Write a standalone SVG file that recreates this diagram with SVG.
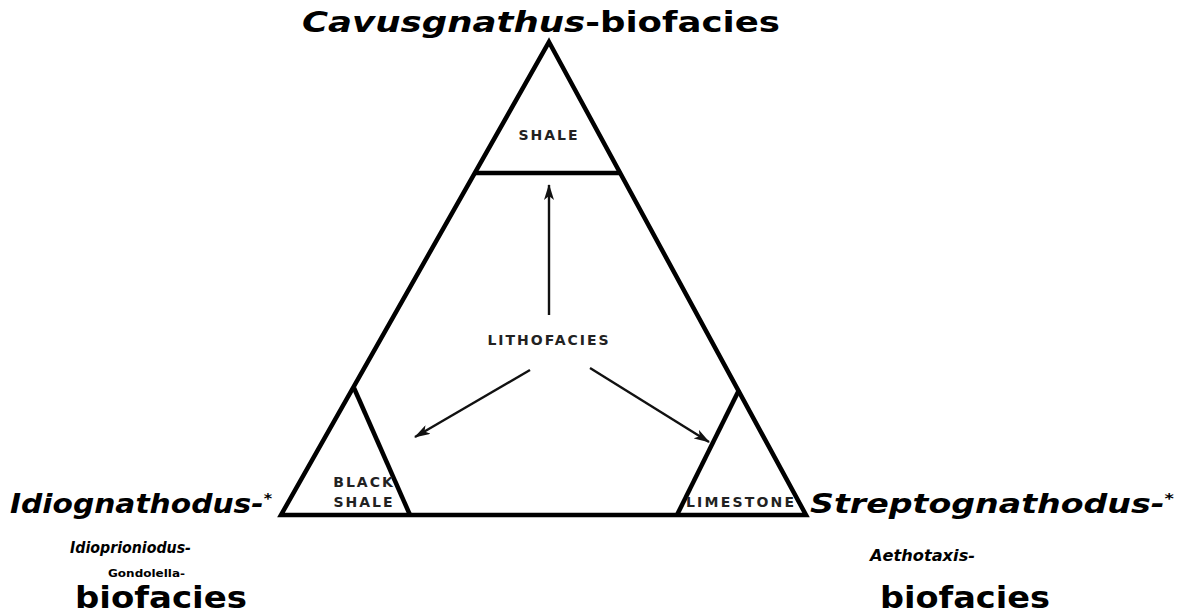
<svg xmlns="http://www.w3.org/2000/svg" width="1181" height="615" viewBox="0 0 1181 615">
<style>
.frame{fill:none;stroke:#000;stroke-width:4.5;stroke-linejoin:miter}
.arr{fill:none;stroke:#111;stroke-width:2.4}
.lab{font-family:"DejaVu Sans","Liberation Sans",sans-serif;font-weight:bold;fill:#222;text-anchor:middle;letter-spacing:2px}
.big{font-family:"DejaVu Sans","Liberation Sans",sans-serif;font-weight:bold;fill:#000}
.it{font-style:italic}
</style>
<defs>
<marker id="ah" markerWidth="16" markerHeight="10" refX="15" refY="5" orient="auto" markerUnits="userSpaceOnUse">
<path d="M0,0 L16,5 L0,10 L4,5 Z" fill="#111"/>
</marker>
</defs>
<rect width="1181" height="615" fill="#fff"/>
<g id="triangle">
<path class="frame" d="M549,42 L806,515 L281,515 Z"/>
<line class="frame" x1="475" y1="173" x2="620" y2="173"/>
<line class="frame" x1="354" y1="388" x2="410" y2="515"/>
<line class="frame" x1="739" y1="390" x2="677" y2="515"/>
</g>
<g id="shale"><text class="lab" x="549" y="140" font-size="14">SHALE</text></g>
<g id="lithofacies"><text class="lab" x="549" y="345" font-size="14" font-weight="normal">LITHOFACIES</text></g>
<g id="blackshale"><text class="lab" x="364" y="487" font-size="14" letter-spacing="3">BLACK</text><text class="lab" x="364" y="507" font-size="14" letter-spacing="3">SHALE</text></g>
<g id="limestone"><text class="lab" x="741" y="507" font-size="14" letter-spacing="1" textLength="110" lengthAdjust="spacing">LIMESTONE</text></g>
<g id="connectors">
<line class="arr" x1="549" y1="315" x2="549" y2="185" marker-end="url(#ah)"/>
<line class="arr" x1="530" y1="370" x2="415" y2="437" marker-end="url(#ah)"/>
<line class="arr" x1="590" y1="368" x2="709" y2="442" marker-end="url(#ah)"/>
</g>
<g id="cavusgnathus"><text class="big" x="302" y="32" font-size="28" textLength="478" lengthAdjust="spacingAndGlyphs"><tspan class="it">Cavusgnathus</tspan>-biofacies</text></g>
<g id="idiognathodus">
<text class="big it" x="10" y="513" font-size="26" textLength="262" lengthAdjust="spacingAndGlyphs">Idiognathodus-<tspan font-size="14" dy="-10">*</tspan></text>
<text class="big it" x="70" y="553" font-size="15" textLength="121" lengthAdjust="spacingAndGlyphs">Idioprioniodus-</text>
<text class="big" x="108" y="577" font-size="11" textLength="77" lengthAdjust="spacingAndGlyphs">Gondolella-</text>
<text class="big" x="75" y="608" font-size="31" textLength="172" lengthAdjust="spacingAndGlyphs">biofacies</text>
</g>
<g id="streptognathodus">
<text class="big it" x="810" y="513" font-size="26" textLength="364" lengthAdjust="spacingAndGlyphs">Streptognathodus-<tspan font-size="14" dy="-10">*</tspan></text>
<text class="big it" x="870" y="561" font-size="15" textLength="105" lengthAdjust="spacingAndGlyphs">Aethotaxis-</text>
<text class="big" x="880" y="608" font-size="31" textLength="170" lengthAdjust="spacingAndGlyphs">biofacies</text>
</g>
</svg>
